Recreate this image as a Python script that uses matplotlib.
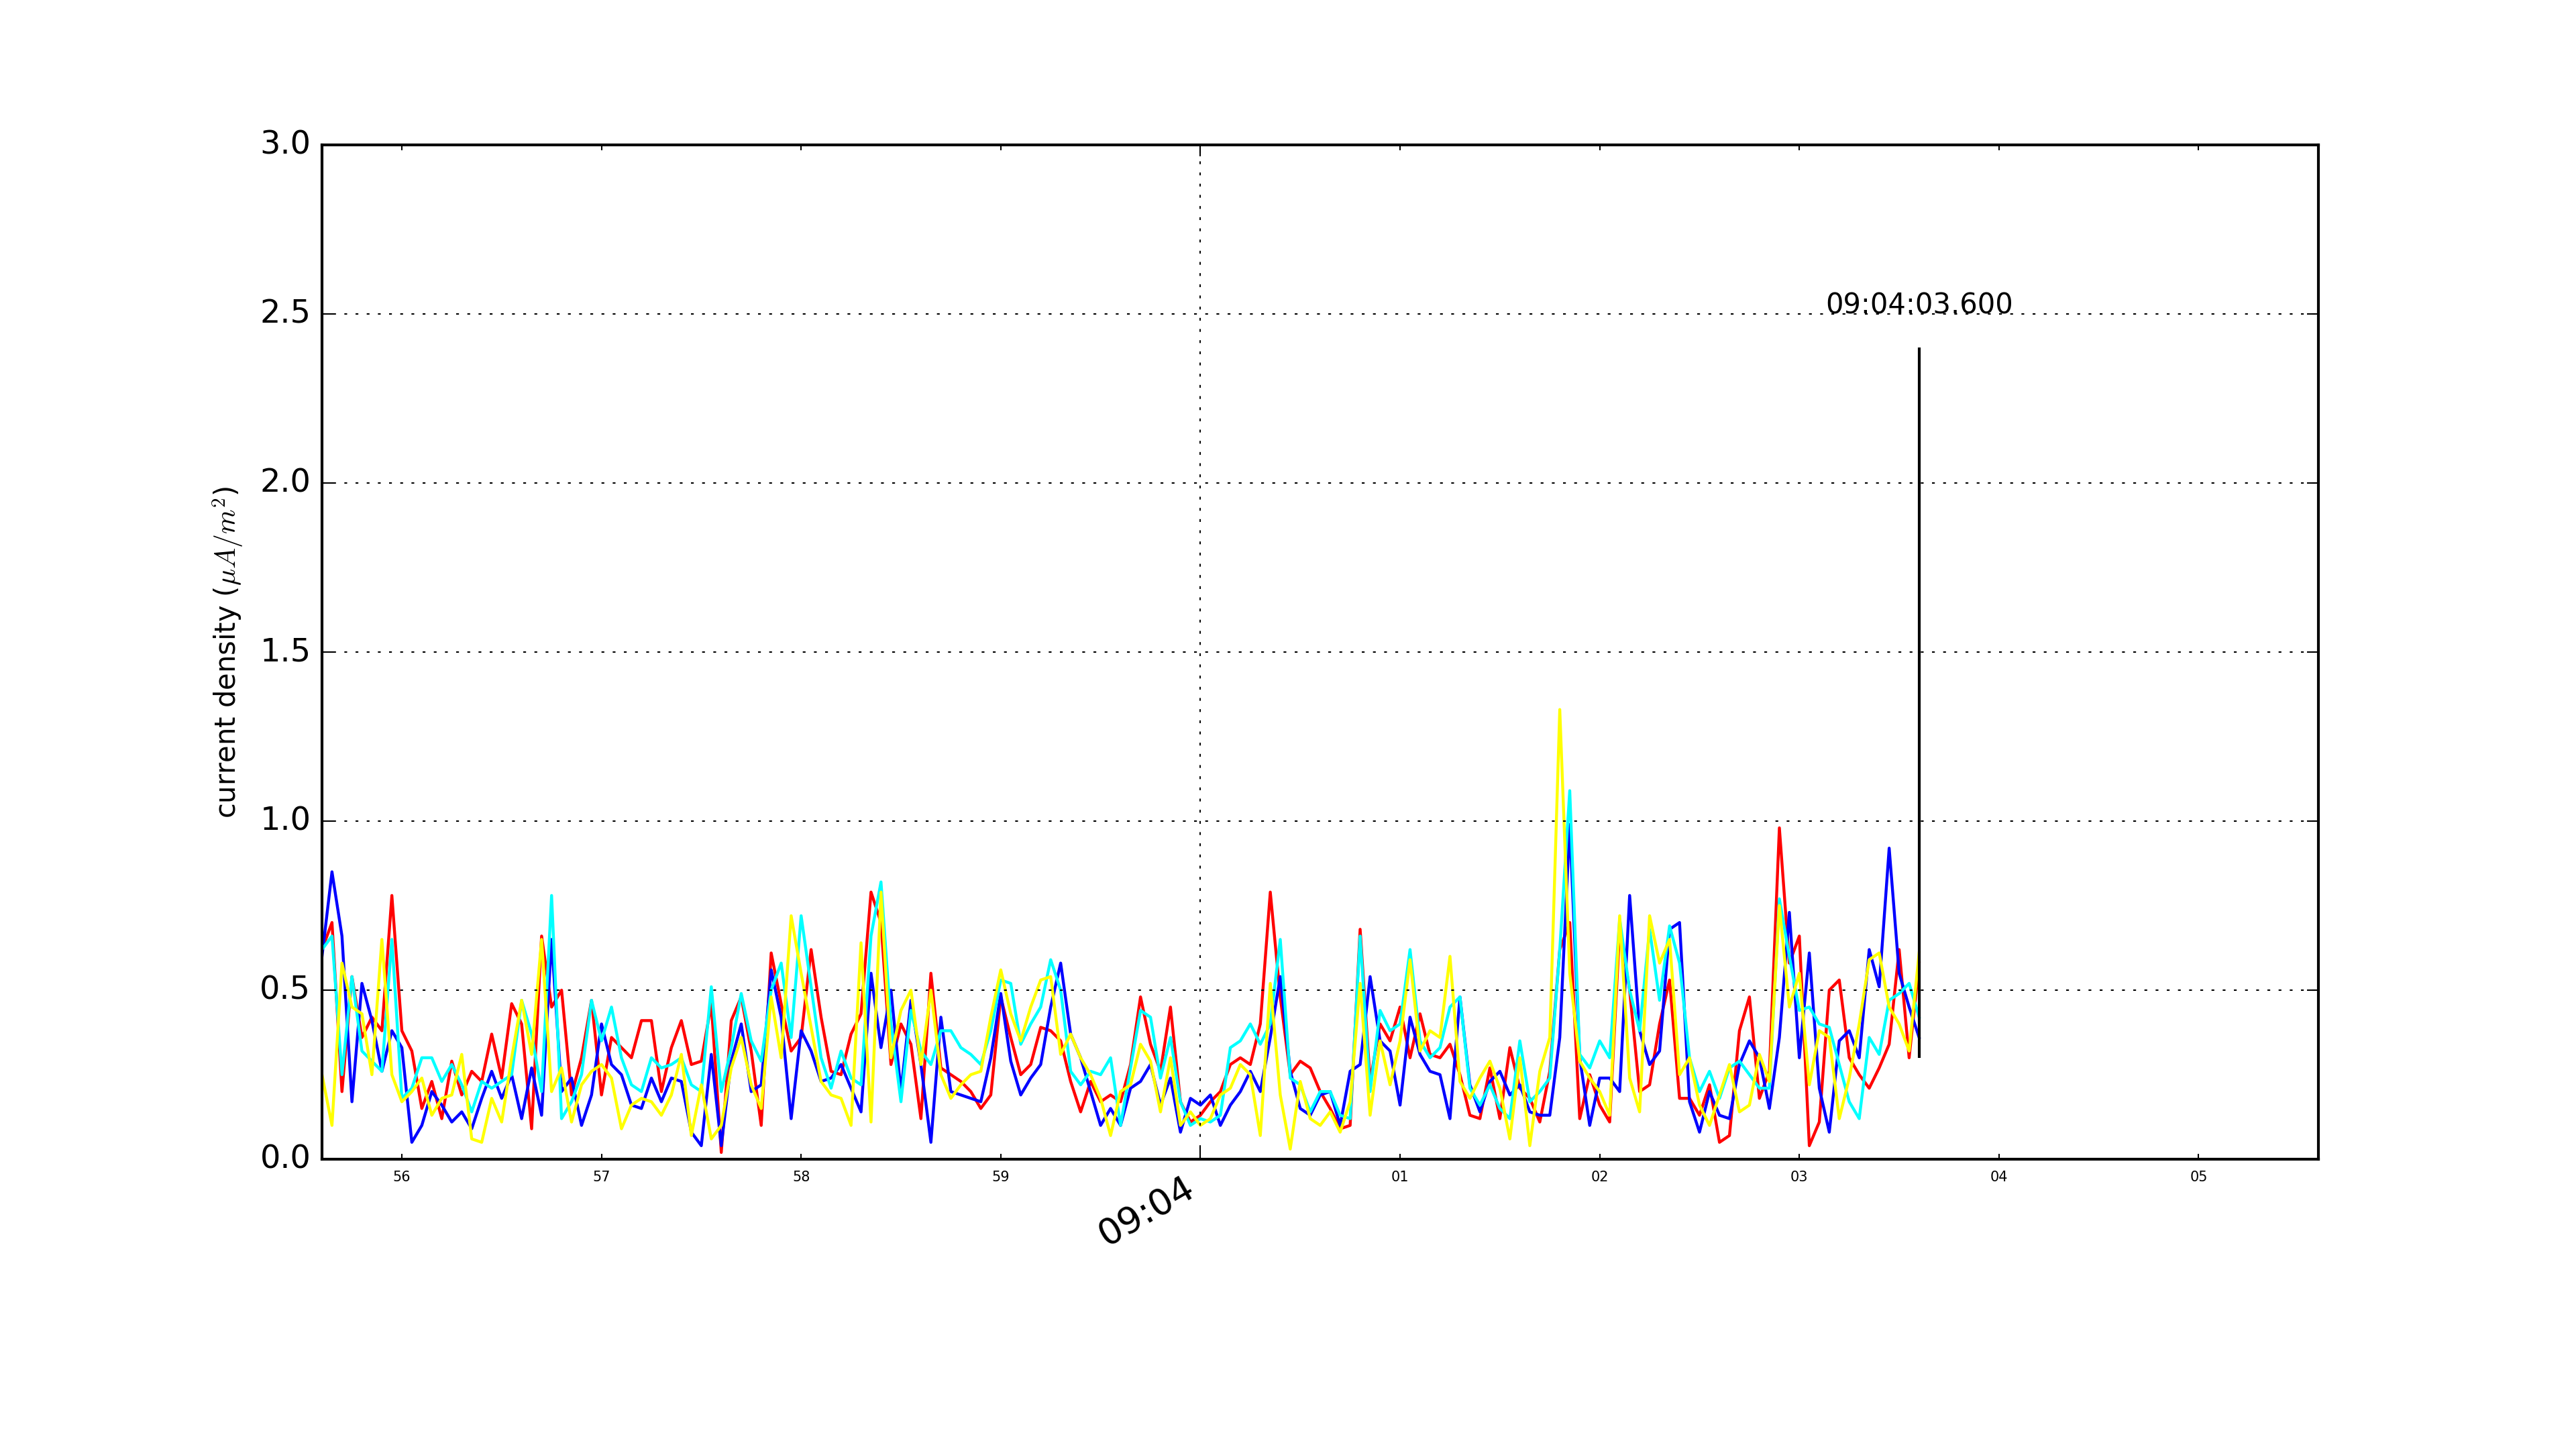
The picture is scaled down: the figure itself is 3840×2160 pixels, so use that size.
import numpy as np
import matplotlib
matplotlib.use("Agg")
import matplotlib.pyplot as plt
import matplotlib.dates as mdates

# ---------------- data ----------------
start_time = "2016-01-01T09:03:55.600"
step_ms = 50
marker_time = "2016-01-01T09:04:03.600"
marker_label = "09:04:03.600"
xlim_times = ["2016-01-01T09:03:55.600", "2016-01-01T09:04:05.600"]
ylabel = r"current density ($\mu A/m^2$)"
y_ticks = [0.0, 0.5, 1.0, 1.5, 2.0, 2.5, 3.0]
marker_range = [0.3, 2.4]
marker_text_y = 2.5

red = [0.62, 0.70, 0.20, 0.54, 0.36, 0.42, 0.38, 0.78, 0.38, 0.32, 0.15, 0.23, 0.12, 0.29,
       0.19, 0.26, 0.23, 0.37, 0.24, 0.46, 0.40, 0.09, 0.66, 0.45, 0.50, 0.19, 0.30, 0.47,
       0.19, 0.36, 0.33, 0.30, 0.41, 0.41, 0.20, 0.33, 0.41, 0.28, 0.29, 0.46, 0.02, 0.41,
       0.48, 0.32, 0.10, 0.61, 0.46, 0.32, 0.36, 0.62, 0.42, 0.26, 0.25, 0.37, 0.43, 0.79,
       0.70, 0.28, 0.40, 0.34, 0.12, 0.55, 0.27, 0.25, 0.23, 0.20, 0.15, 0.19, 0.48, 0.36,
       0.25, 0.28, 0.39, 0.38, 0.35, 0.23, 0.14, 0.23, 0.17, 0.19, 0.17, 0.28, 0.48,
       0.34, 0.26, 0.45, 0.17, 0.11, 0.13, 0.17, 0.20, 0.28, 0.30, 0.28, 0.40, 0.79, 0.48,
       0.25, 0.29, 0.27, 0.20, 0.15, 0.09, 0.10, 0.68, 0.23, 0.40, 0.35, 0.45, 0.30, 0.43,
       0.31, 0.30, 0.34, 0.25, 0.13, 0.12, 0.27, 0.12, 0.33, 0.21, 0.18, 0.11, 0.26, 0.62,
       0.70, 0.12, 0.25, 0.16, 0.11, 0.68, 0.50, 0.20, 0.22, 0.40, 0.53, 0.18, 0.18,
       0.13, 0.22, 0.05, 0.07, 0.38, 0.48, 0.18, 0.26, 0.98, 0.58, 0.66, 0.04, 0.11, 0.50,
       0.53, 0.30, 0.25, 0.21, 0.27, 0.34, 0.62, 0.30, 0.58]

blue = [0.60, 0.85, 0.66, 0.17, 0.52, 0.41, 0.26, 0.38, 0.33, 0.05, 0.10, 0.20, 0.16, 0.11,
        0.14, 0.09, 0.18, 0.26, 0.18, 0.25, 0.12, 0.27, 0.13, 0.65, 0.20, 0.24, 0.10, 0.19,
        0.40, 0.28, 0.25, 0.16, 0.15, 0.24, 0.17, 0.24, 0.23, 0.08, 0.04, 0.31, 0.04, 0.29,
        0.40, 0.20, 0.22, 0.56, 0.42, 0.12, 0.38, 0.32, 0.23, 0.24, 0.28, 0.21, 0.14, 0.55,
        0.33, 0.50, 0.20, 0.47, 0.28, 0.05, 0.42, 0.20, 0.19, 0.18, 0.17, 0.30, 0.49, 0.29,
        0.19, 0.24, 0.28, 0.45, 0.58, 0.37, 0.30, 0.20, 0.10, 0.15, 0.10, 0.21, 0.23,
        0.28, 0.16, 0.24, 0.08, 0.18, 0.16, 0.19, 0.10, 0.16, 0.20, 0.26, 0.20, 0.36, 0.54,
        0.26, 0.15, 0.13, 0.19, 0.20, 0.10, 0.26, 0.28, 0.54, 0.35, 0.32, 0.16, 0.42, 0.31,
        0.26, 0.25, 0.12, 0.48, 0.22, 0.14, 0.23, 0.26, 0.19, 0.22, 0.14, 0.13, 0.13, 0.36,
        0.99, 0.30, 0.10, 0.24, 0.24, 0.20, 0.78, 0.38, 0.28, 0.32, 0.68, 0.70, 0.17,
        0.08, 0.20, 0.13, 0.12, 0.28, 0.35, 0.30, 0.15, 0.36, 0.73, 0.30, 0.61, 0.21, 0.08,
        0.35, 0.38, 0.30, 0.62, 0.51, 0.92, 0.55, 0.45, 0.36]

cyan = [0.62, 0.66, 0.25, 0.54, 0.32, 0.29, 0.26, 0.65, 0.18, 0.21, 0.30, 0.30, 0.23, 0.28,
        0.22, 0.14, 0.23, 0.21, 0.23, 0.25, 0.47, 0.37, 0.20, 0.78, 0.12, 0.17, 0.25, 0.47,
        0.35, 0.45, 0.30, 0.22, 0.20, 0.30, 0.27, 0.28, 0.30, 0.22, 0.20, 0.51, 0.20, 0.33,
        0.49, 0.35, 0.29, 0.50, 0.58, 0.36, 0.72, 0.51, 0.30, 0.21, 0.32, 0.24, 0.22, 0.66,
        0.82, 0.40, 0.17, 0.44, 0.32, 0.28, 0.38, 0.38, 0.33, 0.31, 0.28, 0.38, 0.53, 0.52,
        0.34, 0.40, 0.45, 0.59, 0.50, 0.26, 0.22, 0.26, 0.25, 0.30, 0.10, 0.27, 0.44,
        0.42, 0.24, 0.36, 0.17, 0.10, 0.12, 0.11, 0.13, 0.33, 0.35, 0.40, 0.34, 0.40, 0.65,
        0.24, 0.22, 0.14, 0.20, 0.20, 0.13, 0.12, 0.66, 0.20, 0.44, 0.38, 0.40, 0.62, 0.35,
        0.30, 0.33, 0.45, 0.48, 0.21, 0.16, 0.22, 0.15, 0.12, 0.35, 0.17, 0.20, 0.24, 0.62,
        1.09, 0.31, 0.27, 0.35, 0.30, 0.71, 0.50, 0.38, 0.68, 0.47, 0.69, 0.58, 0.30,
        0.20, 0.26, 0.18, 0.27, 0.29, 0.25, 0.21, 0.21, 0.77, 0.60, 0.44, 0.45, 0.40, 0.39,
        0.28, 0.17, 0.12, 0.36, 0.31, 0.47, 0.49, 0.52, 0.42]

yellow = [0.25, 0.10, 0.58, 0.45, 0.43, 0.25, 0.65, 0.25, 0.17, 0.20, 0.24, 0.13, 0.18, 0.19,
          0.31, 0.06, 0.05, 0.18, 0.11, 0.30, 0.47, 0.31, 0.65, 0.20, 0.27, 0.11, 0.22, 0.26,
          0.28, 0.24, 0.09, 0.16, 0.18, 0.17, 0.13, 0.19, 0.31, 0.07, 0.22, 0.06, 0.10, 0.27,
          0.36, 0.22, 0.15, 0.48, 0.30, 0.72, 0.55, 0.39, 0.23, 0.19, 0.18, 0.10, 0.64, 0.11,
          0.79, 0.30, 0.44, 0.50, 0.28, 0.50, 0.25, 0.18, 0.22, 0.25, 0.26, 0.42, 0.56, 0.43,
          0.35, 0.45, 0.53, 0.54, 0.31, 0.37, 0.30, 0.25, 0.18, 0.07, 0.20, 0.22, 0.34,
          0.29, 0.14, 0.30, 0.10, 0.14, 0.10, 0.12, 0.19, 0.21, 0.28, 0.25, 0.07, 0.52, 0.19,
          0.03, 0.23, 0.12, 0.10, 0.14, 0.08, 0.17, 0.52, 0.13, 0.35, 0.22, 0.35, 0.59, 0.32,
          0.38, 0.36, 0.60, 0.23, 0.18, 0.24, 0.29, 0.21, 0.06, 0.30, 0.04, 0.26, 0.36, 1.33,
          0.55, 0.29, 0.24, 0.20, 0.13, 0.72, 0.24, 0.14, 0.72, 0.58, 0.65, 0.25, 0.30,
          0.16, 0.10, 0.19, 0.28, 0.14, 0.16, 0.31, 0.23, 0.75, 0.45, 0.55, 0.22, 0.38, 0.36,
          0.12, 0.24, 0.40, 0.59, 0.61, 0.45, 0.40, 0.32, 0.61]

series = [("red", red), ("blue", blue), ("cyan", cyan), ("yellow", yellow)]

# ---------------- plot ----------------
plt.style.use("classic")
plt.rcParams["figure.facecolor"] = "white"
plt.rcParams["savefig.facecolor"] = "white"

n = len(red)
times = np.datetime64(start_time) + np.arange(n) * np.timedelta64(step_ms, "ms")

fig = plt.figure(figsize=(12.8, 7.2), dpi=300)
ax = fig.add_subplot(111)

for color, vals in series:
    ax.plot(times, vals, color=color, linewidth=1.05)

t_mark = np.datetime64(marker_time)
ax.vlines(t_mark, marker_range[0], marker_range[1], color="k", linewidth=1.0)
ax.text(t_mark, marker_text_y, marker_label, ha="center", va="baseline", fontsize=10)

ax.set_xlim(np.datetime64(xlim_times[0]), np.datetime64(xlim_times[1]))
ax.set_ylim(y_ticks[0], y_ticks[-1])
ax.set_yticks(y_ticks)

ax.xaxis.set_major_locator(mdates.MinuteLocator())
ax.xaxis.set_major_formatter(mdates.DateFormatter("%H:%M"))
ax.xaxis.set_minor_locator(mdates.SecondLocator())
ax.xaxis.set_minor_formatter(mdates.DateFormatter("%S"))

ax.grid(True, which="major")
ax.set_ylabel(ylabel, fontsize=10)
ax.tick_params(axis="y", labelsize=11.5)
ax.tick_params(axis="x", which="major", labelsize=13)
ax.tick_params(axis="x", which="minor", labelsize=5)

fig.autofmt_xdate()
fig.subplots_adjust(left=0.125, right=0.9, top=0.9, bottom=0.2)

fig.savefig("out.png", dpi=300, facecolor="white")
